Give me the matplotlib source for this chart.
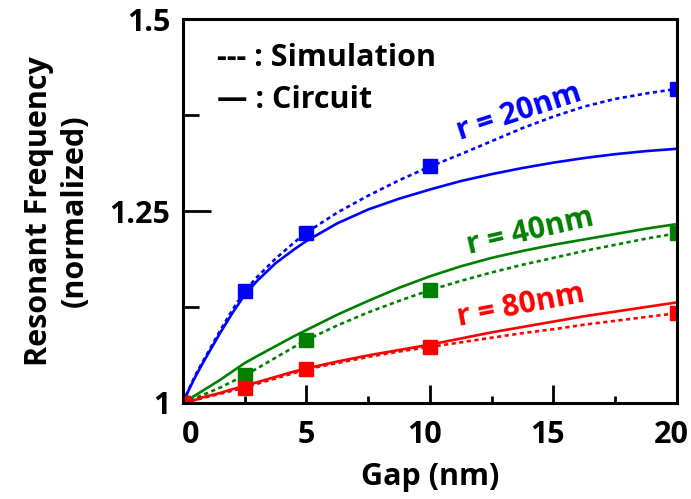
import matplotlib
matplotlib.use("Agg")
import matplotlib.pyplot as plt
from matplotlib.transforms import ScaledTranslation

gap = [0, 0.25, 0.5, 0.75, 1, 1.5, 2, 2.5, 3, 3.75, 4.5, 5, 6.25, 7.5, 8.75,
       10, 11.25, 12.5, 13.75, 15, 16.25, 17.5, 18.75, 20]
# gaps where simulation squares are drawn
sim_gap = [0, 2.5, 5, 10, 20]

# simulation (dotted) curves
sim_r20 = [1.000, 1.019, 1.036, 1.051, 1.065, 1.094, 1.121, 1.146, 1.164, 1.188, 1.209, 1.222,
           1.248, 1.270, 1.290, 1.308, 1.324, 1.341, 1.358, 1.373, 1.386, 1.396, 1.403, 1.409]
sim_r40 = [1.000, 1.003, 1.006, 1.010, 1.013, 1.020, 1.028, 1.036, 1.045, 1.059, 1.073, 1.082,
           1.101, 1.118, 1.133, 1.147, 1.159, 1.170, 1.180, 1.189, 1.198, 1.206, 1.214, 1.221]
sim_r80 = [1.000, 1.002, 1.004, 1.006, 1.008, 1.012, 1.016, 1.020, 1.025, 1.032, 1.039, 1.044,
           1.052, 1.060, 1.067, 1.073, 1.079, 1.085, 1.091, 1.096, 1.102, 1.107, 1.112, 1.117]

# circuit model (solid) curves
cir_r20 = [1.000, 1.018, 1.034, 1.049, 1.063, 1.091, 1.117, 1.141, 1.159, 1.182, 1.200, 1.211,
           1.234, 1.252, 1.266, 1.278, 1.289, 1.298, 1.306, 1.313, 1.319, 1.324, 1.328, 1.331]
cir_r40 = [1.000, 1.005, 1.010, 1.015, 1.020, 1.030, 1.041, 1.052, 1.061, 1.074, 1.087, 1.095,
           1.115, 1.133, 1.150, 1.165, 1.178, 1.189, 1.198, 1.206, 1.213, 1.220, 1.227, 1.233]
cir_r80 = [1.000, 1.002, 1.004, 1.007, 1.009, 1.013, 1.018, 1.022, 1.027, 1.034, 1.041, 1.045,
           1.054, 1.062, 1.069, 1.076, 1.084, 1.092, 1.099, 1.106, 1.113, 1.119, 1.125, 1.131]

labels = ["r = 20nm", "r = 40nm", "r = 80nm"]
colors = ["#0000ff", "#008000", "#ff0000"]

plt.rcParams["font.family"] = ["Open Sans", "DejaVu Sans"]
plt.rcParams["font.weight"] = "bold"

fig = plt.figure(figsize=(6.91, 4.99), dpi=100)
ax = fig.add_axes([0.2648, 0.1924, 0.7149, 0.7695])

marks = [gap.index(g) for g in sim_gap]
for sim, cir, c in zip([sim_r20, sim_r40, sim_r80], [cir_r20, cir_r40, cir_r80], colors):
    ax.plot(gap, cir, "-", color=c, lw=1.9)
    ax.plot(gap, sim, color=c, lw=1.9, ls=(0, (1.6, 1.3)), marker="s", ms=9.5,
            markevery=marks)

# curve labels
ax.text(13.6, 1.379, labels[0], color=colors[0], fontsize=21.5, fontweight="bold",
        rotation=18, ha="center", va="center")
ax.text(14.05, 1.223, labels[1], color=colors[1], fontsize=21.5, fontweight="bold",
        rotation=13, ha="center", va="center")
ax.text(13.7, 1.126, labels[2], color=colors[2], fontsize=21.5, fontweight="bold",
        rotation=11, ha="center", va="center")

# legend written as text
ax.text(1.38, 1.449, "--- : Simulation", fontsize=22, fontweight="bold", va="center")
ax.text(1.38, 1.394, "\u2014 : Circuit", fontsize=22, fontweight="bold", va="center")

ax.set_xlim(0, 20)
ax.set_ylim(1, 1.5)
ax.set_xticks([0, 5, 10, 15, 20])
ax.set_xticks([2.5, 7.5, 12.5, 17.5], minor=True)
ax.set_yticks([1, 1.25, 1.5])
ax.set_yticklabels(["1", "1.25", "1.5"])
ax.set_yticks([1.125, 1.375], minor=True)

for s in ax.spines.values():
    s.set_linewidth(2.2)
ax.tick_params(axis="x", which="major", direction="in", length=13, width=2, pad=12, labelsize=22)
ax.tick_params(axis="x", which="minor", direction="in", length=5, width=2)
ax.tick_params(axis="y", which="major", direction="in", length=20, width=2, pad=9, labelsize=22)
ax.tick_params(axis="y", which="minor", direction="in", length=11.5, width=2)
for lab in ax.get_xticklabels() + ax.get_yticklabels():
    lab.set_fontweight("bold")

# the x tick labels sit slightly off their ticks in the original
for lab, dx in zip(ax.get_xticklabels(), [8, 0, -5, -6, -6]):
    lab.set_transform(lab.get_transform() + ScaledTranslation(dx / 100, 0, fig.dpi_scale_trans))

ax.set_xlabel("Gap (nm)", fontsize=22, fontweight="bold", labelpad=9)
ax.set_ylabel("Resonant Frequency\n(normalized)", fontsize=22, fontweight="bold",
              labelpad=14, linespacing=1.25)

fig.savefig("out.png", dpi=100)
